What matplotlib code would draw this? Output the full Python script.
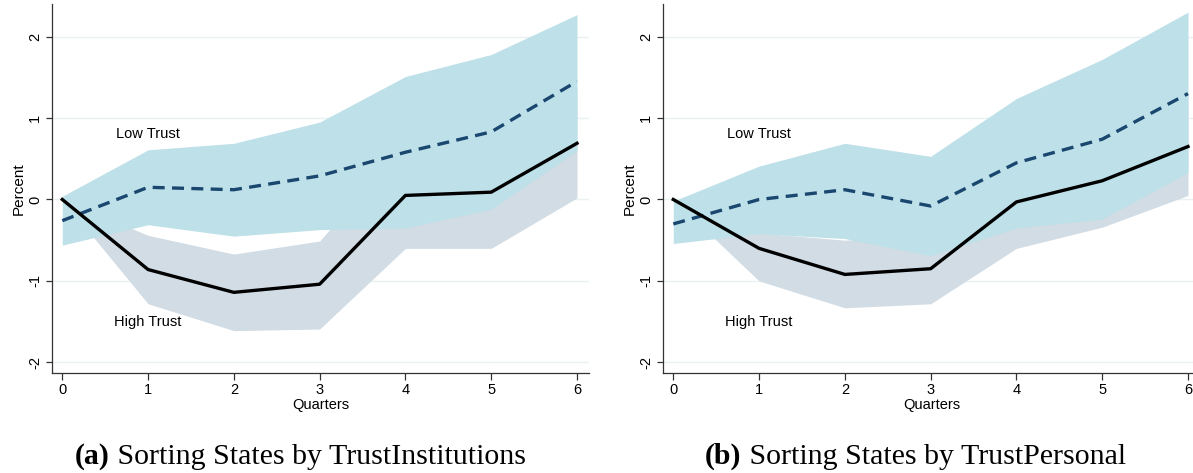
import matplotlib
matplotlib.use('Agg')
import matplotlib.pyplot as plt

quarters = [0, 1, 2, 3, 4, 5, 6]

# Panel (a): states sorted by trust in institutions
inst_low = [-0.26, 0.15, 0.12, 0.29, 0.58, 0.83, 1.45]
inst_low_hi = [0.04, 0.61, 0.69, 0.95, 1.51, 1.78, 2.27]
inst_low_lo = [-0.56, -0.31, -0.45, -0.37, -0.35, -0.12, 0.60]
inst_high = [0.0, -0.86, -1.14, -1.04, 0.05, 0.09, 0.69]
inst_high_hi = [0.0, -0.44, -0.67, -0.51, 0.70, 0.78, 1.36]
inst_high_lo = [0.0, -1.28, -1.61, -1.59, -0.60, -0.60, 0.02]

# Panel (b): states sorted by personal trust
pers_low = [-0.30, 0.0, 0.12, -0.08, 0.45, 0.74, 1.30]
pers_low_hi = [-0.02, 0.41, 0.69, 0.53, 1.24, 1.72, 2.30]
pers_low_lo = [-0.54, -0.42, -0.48, -0.69, -0.35, -0.24, 0.33]
pers_high = [0.0, -0.60, -0.92, -0.85, -0.03, 0.23, 0.65]
pers_high_hi = [0.0, -0.41, -0.50, -0.42, 0.50, 0.80, 1.30]
pers_high_lo = [0.0, -1.00, -1.33, -1.28, -0.60, -0.34, 0.05]

yticks = [-2, -1, 0, 1, 2]
captions = [('(a)', ' Sorting States by TrustInstitutions'),
            ('(b)', ' Sorting States by TrustPersonal')]

LOW_BAND = '#bee0e8'
HIGH_BAND = '#d1dce4'
NAVY = '#1a476f'
GRID = '#e9f1f3'

plt.rcParams['font.family'] = ['Liberation Sans', 'DejaVu Sans']


def draw_panel(ax, low, low_hi, low_lo, high, high_hi, high_lo):
    ax.fill_between(quarters, high_lo, high_hi, color=HIGH_BAND, lw=0, zorder=1)
    ax.fill_between(quarters, low_lo, low_hi, color=LOW_BAND, lw=0, zorder=2)
    ax.plot(quarters, low, color=NAVY, lw=2.4, ls=(0, (3.6, 2.2)), zorder=4)
    ax.plot(quarters, high, color='black', lw=2.4, zorder=5)

    ax.set_xlim(-0.12, 6.14)
    ax.set_ylim(-2.13, 2.40)
    ax.set_xticks(quarters)
    ax.set_yticks(yticks)
    ax.set_yticklabels([str(v) for v in yticks], rotation=90, va='center')
    ax.tick_params(axis='both', labelsize=10.5, color='#333333', width=0.9)
    ax.tick_params(axis='x', length=5, pad=2)
    ax.tick_params(axis='y', length=4, pad=3)
    ax.grid(axis='y', color=GRID, lw=1.0, zorder=0)
    ax.set_axisbelow(True)
    for side in ['top', 'right']:
        ax.spines[side].set_visible(False)
    for side in ['left', 'bottom']:
        ax.spines[side].set_color('#333333')
        ax.spines[side].set_linewidth(0.9)

    ax.set_xlabel('Quarters', fontsize=10.5, labelpad=1)
    ax.set_ylabel('Percent', fontsize=11, labelpad=2)
    ax.text(1.0, 0.80, 'Low Trust', fontsize=10.5, ha='center', va='center', zorder=6)
    ax.text(1.0, -1.50, 'High Trust', fontsize=10.5, ha='center', va='center', zorder=6)


W, H = 1193, 473
fig = plt.figure(figsize=(W / 100, H / 100), dpi=100)

ax1 = fig.add_axes([52 / W, 100 / H, 537 / W, 369 / H])
ax2 = fig.add_axes([663 / W, 100 / H, 537 / W, 369 / H])

draw_panel(ax1, inst_low, inst_low_hi, inst_low_lo, inst_high, inst_high_hi, inst_high_lo)
draw_panel(ax2, pers_low, pers_low_hi, pers_low_lo, pers_high, pers_high_hi, pers_high_lo)

# captions: bold tag followed by regular serif text
for x0, (tag, rest) in zip([75 / W, 705 / W], captions):
    t = fig.text(x0, 9 / H, tag, fontsize=21.5, fontweight='bold',
                 family='Liberation Serif', va='baseline')
    plt.annotate(rest, xy=(1, 0), xycoords=t, va='bottom', ha='left',
                 fontsize=21.5, family='Liberation Serif', annotation_clip=False)

fig.savefig('out.png', dpi=100)
